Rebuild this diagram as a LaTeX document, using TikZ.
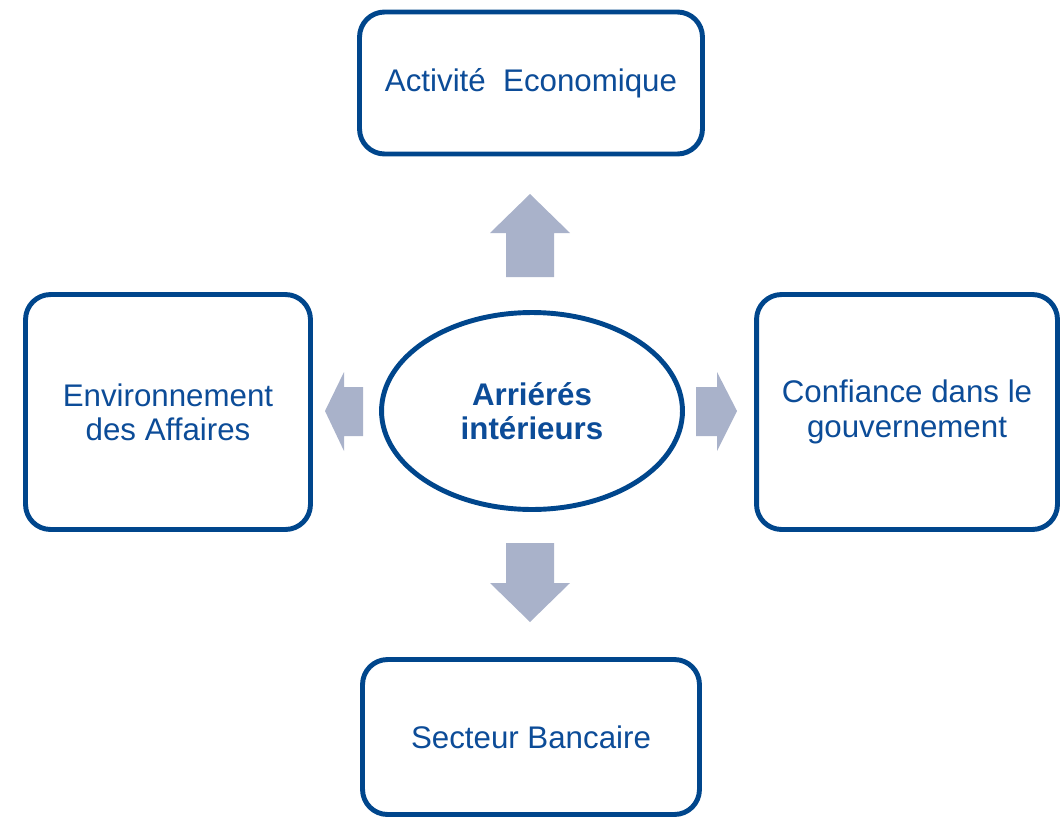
\documentclass[tikz,border=0pt]{standalone}
\usepackage{fontspec}
\setmainfont{Liberation Sans}
\usetikzlibrary{shapes,positioning}

\definecolor{bleu}{RGB}{0,70,140}
\definecolor{txtbleu}{RGB}{12,76,152}
\definecolor{fleche}{RGB}{169,178,202}

\begin{document}
\begin{tikzpicture}[x=0.02cm, y=-0.02cm,
    boite/.style={draw=bleu, line width=2.8pt, rounded corners=0.5cm, fill=white,
      text=txtbleu, align=center, font=\fontsize{17.8}{19.5}\selectfont, inner sep=0pt},
    centre/.style={draw=bleu, line width=2.8pt, ellipse, fill=white, text=txtbleu,
      align=center, font=\fontsize{17.8}{19.5}\selectfont\bfseries, inner sep=0pt,
      minimum width=6.02cm, minimum height=3.94cm},
    bloc/.style={fill=fleche, draw=none}]
    \useasboundingbox (0,0) rectangle (1064,821);

    \node (ACT) [boite, minimum width=6.86cm, minimum height=2.84cm] at (531,83) {Activit\'e~ Economique};
    \node (ENV) [boite, minimum width=5.7cm, minimum height=4.7cm] at (168,412) {Environnement\\des Affaires};
    \node (CONF) [boite, minimum width=6.02cm, minimum height=4.7cm] at (907,412) {Confiance dans le\\gouvernement};
    \node (BANC) [boite, minimum width=6.74cm, minimum height=3.1cm] at (531,737) {Secteur Bancaire};
    \node (ARR) [centre] at (532,411) {Arri\'er\'es\\int\'erieurs};

    % fleches
    \fill[bloc] (506,277) -- (506,233) -- (490,233) -- (530,194) -- (570,233) -- (554,233) -- (554,277) -- cycle;
    \fill[bloc] (506,543) -- (506,583) -- (490,583) -- (530,622) -- (570,583) -- (554,583) -- (554,543) -- cycle;
    \fill[bloc] (363,387) -- (344,387) -- (344,372) -- (325,411) -- (344,451) -- (344,436) -- (363,436) -- cycle;
    \fill[bloc] (696,387) -- (717,387) -- (717,372) -- (737,411) -- (717,451) -- (717,436) -- (696,436) -- cycle;
\end{tikzpicture}
\end{document}
